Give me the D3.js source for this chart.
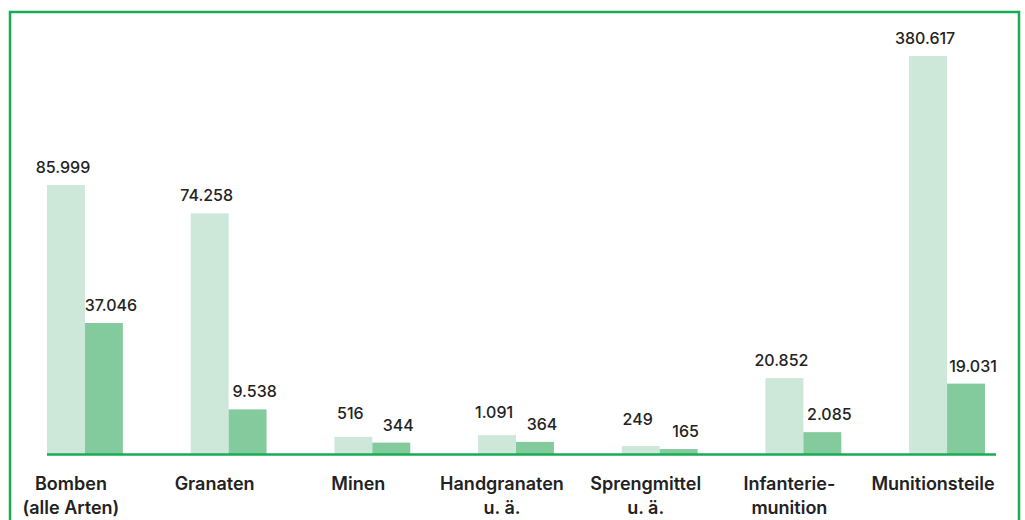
<!DOCTYPE html>
<html>
<head>
<meta charset="utf-8">
<title>Munition</title>
<script src="https://d3js.org/d3.v7.min.js"></script>
<style>
    body { margin: 0; background: #fff; }
    .value { font-family: Inter, sans-serif; font-weight: 500; font-size: 16px; fill: #222; }
    .cat { font-family: Inter, sans-serif; font-weight: 600; font-size: 18px; fill: #222; }
</style>
</head>
<body>
<script>
// categories (each label may have two lines)
var categories = ["Bomben|(alle Arten)", "Granaten", "Minen", "Handgranaten|u. ä.",
                  "Sprengmittel|u. ä.", "Infanterie-|munition", "Munitionsteile"];
var seriesKeys = ["light", "dark"];
var lightValues = [85999, 74258, 516, 1091, 249, 20852, 380617];
var darkValues  = [37046, 9538, 344, 364, 165, 2085, 19031];

var width = 1025, height = 520;
var baseY = 455;
var colors = { light: "#cde8d8", dark: "#83cb9d" };
var green = "#17ad52";

var svg = d3.select("body").append("svg")
    .attr("width", width)
    .attr("height", height);

// frame
svg.append("rect")
    .attr("x", 10).attr("y", 12)
    .attr("width", 1009).attr("height", 530)
    .attr("fill", "none")
    .attr("stroke", green)
    .attr("stroke-width", 2.5);

var x = d3.scaleBand()
    .domain(d3.range(categories.length))
    .range([47, 985])
    .paddingInner(0.472)
    .paddingOuter(0);

var xSub = d3.scaleBand()
    .domain(seriesKeys)
    .range([0, x.bandwidth()]);

// the chart is not drawn to scale: compressed polylinear scale
var y = d3.scaleLinear()
    .domain([0, 500, 10000, 20000, 40000, 74000, 86000, 380617])
    .range([baseY, baseY - 18, baseY - 47, baseY - 74, baseY - 142, baseY - 241, baseY - 270, baseY - 399]);

var rows = categories.map(function(c, i) {
    return { i: i, light: lightValues[i], dark: darkValues[i] };
});

var groups = svg.selectAll("g.group")
    .data(rows)
    .enter()
    .append("g")
    .attr("class", "group")
    .attr("transform", function(d) { return "translate(" + x(d.i) + ",0)"; });

groups.selectAll("rect")
    .data(function(d) { return seriesKeys.map(function(k) { return { key: k, v: d[k] }; }); })
    .enter()
    .append("rect")
    .attr("x", function(d) { return xSub(d.key); })
    .attr("width", xSub.bandwidth())
    .attr("y", function(d) { return y(d.v); })
    .attr("height", function(d) { return baseY - y(d.v); })
    .attr("fill", function(d) { return colors[d.key]; });

function fmt(v) { return d3.format(",")(v).replace(/,/g, "."); }

// value labels; light label is kept above the dark one
groups.each(function(d) {
    var g = d3.select(this);
    var darkY = y(d.dark) - 12;
    var lightY = Math.min(y(d.light) - 12, darkY - 12);
    g.append("text")
        .attr("class", "value")
        .attr("x", xSub("light") + xSub.bandwidth() / 2 - 3)
        .attr("y", lightY)
        .attr("text-anchor", "middle")
        .text(fmt(d.light));
    g.append("text")
        .attr("class", "value")
        .attr("x", xSub("dark") + xSub.bandwidth() / 2 + 7)
        .attr("y", darkY)
        .attr("text-anchor", "middle")
        .text(fmt(d.dark));
});

// baseline
svg.append("line")
    .attr("x1", 47).attr("x2", 996)
    .attr("y1", baseY - 0.5).attr("y2", baseY - 0.5)
    .attr("stroke", green)
    .attr("stroke-width", 2.5);

// category labels
var cats = svg.selectAll("text.cat")
    .data(categories)
    .enter()
    .append("text")
    .attr("class", "cat")
    .attr("text-anchor", "middle")
    .attr("x", function(d, i) { return x(i) + x.bandwidth() / 2 - 14; })
    .attr("y", 489.5);

cats.selectAll("tspan")
    .data(function(d) { return d.split("|"); })
    .enter()
    .append("tspan")
    .attr("x", function() { return d3.select(this.parentNode).attr("x"); })
    .attr("dy", function(d, i) { return i === 0 ? 0 : 24; })
    .text(function(d) { return d; });
</script>
</body>
</html>
